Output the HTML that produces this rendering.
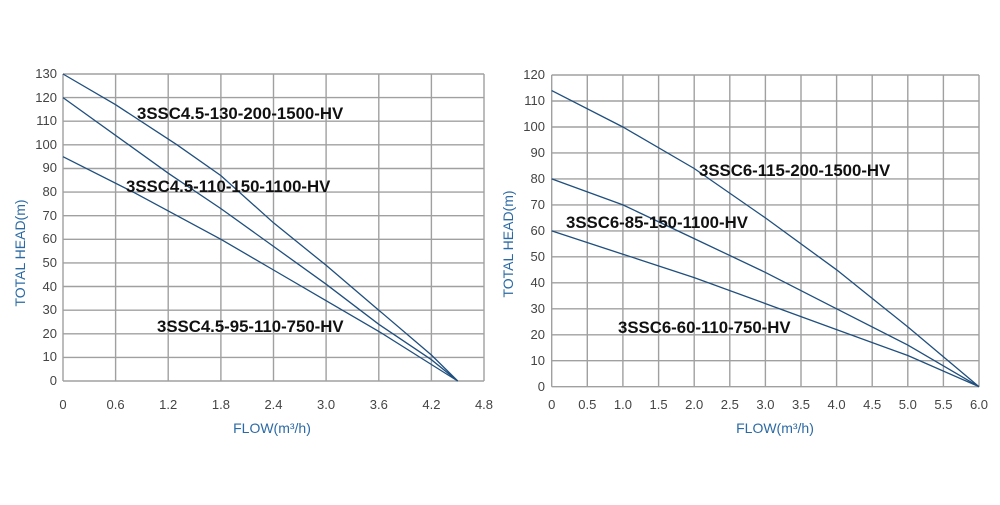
<!DOCTYPE html>
<html><head><meta charset="utf-8"><style>
body{margin:0;background:#fff}
svg text{font-family:"Liberation Sans",Arial,sans-serif}
.t{font-size:13px;fill:#444}
.s{font-size:16.8px;font-weight:bold;fill:#111}
.a{font-size:14px;fill:#2b6aa5}
.g{stroke:#a0a0a0;stroke-width:1.4;fill:none}
.c{stroke:#1f4f7e;stroke-width:1.3;fill:none}
</style></head><body>
<svg width="1000" height="500" xmlns="http://www.w3.org/2000/svg">
<g id="L">
<g class="g">
<path d="M63 74V381M115.6 74V381M168.2 74V381M220.9 74V381M273.5 74V381M326.1 74V381M378.8 74V381M431.4 74V381M484 74V381"/>
<path d="M63 74H484M63 97.6H484M63 121.2H484M63 144.8H484M63 168.5H484M63 192.1H484M63 215.7H484M63 239.3H484M63 262.9H484M63 286.5H484M63 310.2H484M63 333.8H484M63 357.4H484M63 381H484"/>
</g>
<g class="t" text-anchor="end">
<text x="57" y="78">130</text><text x="57" y="102">120</text><text x="57" y="125">110</text><text x="57" y="149">100</text><text x="57" y="172">90</text><text x="57" y="196">80</text><text x="57" y="220">70</text><text x="57" y="243">60</text><text x="57" y="267">50</text><text x="57" y="291">40</text><text x="57" y="314">30</text><text x="57" y="338">20</text><text x="57" y="361">10</text><text x="57" y="385">0</text>
</g>
<g class="t" text-anchor="middle">
<text x="63" y="409">0</text><text x="115.6" y="409">0.6</text><text x="168.2" y="409">1.2</text><text x="220.9" y="409">1.8</text><text x="273.5" y="409">2.4</text><text x="326.1" y="409">3.0</text><text x="378.8" y="409">3.6</text><text x="431.4" y="409">4.2</text><text x="484" y="409">4.8</text>
</g>
<polyline class="c" points="63,74 115.6,104.7 177,144.8 220.9,175.6 273.5,222.8 326.1,265.3 378.8,310.2 431.4,355 457.7,381"/>
<polyline class="c" points="63,97.6 168.2,173.2 220.9,208.6 273.5,246.4 326.1,284.2 378.8,324.3 431.4,359.7 457.7,381"/>
<polyline class="c" points="63,156.7 133.2,192.1 220.9,239.3 273.5,270 326.1,300.7 378.8,331.4 431.4,364.5 457.7,381"/>
<text class="s" x="137" y="119">3SSC4.5-130-200-1500-HV</text>
<text class="s" x="126" y="192">3SSC4.5-110-150-1100-HV</text>
<text class="s" x="157" y="332">3SSC4.5-95-110-750-HV</text>
<text class="a" x="272" y="433" text-anchor="middle">FLOW(m³/h)</text>
<text class="a" transform="translate(25,253) rotate(-90)" text-anchor="middle">TOTAL HEAD(m)</text>
</g>
<g id="R">
<g class="g">
<path d="M551.7 75V386.7M587.3 75V386.7M622.9 75V386.7M658.6 75V386.7M694.2 75V386.7M729.8 75V386.7M765.4 75V386.7M801 75V386.7M836.6 75V386.7M872.2 75V386.7M907.8 75V386.7M943.4 75V386.7M979 75V386.7"/>
<path d="M551.7 75H979M551.7 101H979M551.7 127H979M551.7 152.9H979M551.7 178.9H979M551.7 204.9H979M551.7 230.9H979M551.7 256.8H979M551.7 282.8H979M551.7 308.8H979M551.7 334.8H979M551.7 360.7H979M551.7 386.7H979"/>
</g>
<g class="t" text-anchor="end">
<text x="545" y="79">120</text><text x="545" y="105">110</text><text x="545" y="131">100</text><text x="545" y="157">90</text><text x="545" y="183">80</text><text x="545" y="209">70</text><text x="545" y="235">60</text><text x="545" y="261">50</text><text x="545" y="287">40</text><text x="545" y="313">30</text><text x="545" y="339">20</text><text x="545" y="365">10</text><text x="545" y="391">0</text>
</g>
<g class="t" text-anchor="middle">
<text x="551.7" y="409">0</text><text x="587.3" y="409">0.5</text><text x="622.9" y="409">1.0</text><text x="658.6" y="409">1.5</text><text x="694.2" y="409">2.0</text><text x="729.8" y="409">2.5</text><text x="765.4" y="409">3.0</text><text x="801" y="409">3.5</text><text x="836.6" y="409">4.0</text><text x="872.2" y="409">4.5</text><text x="907.8" y="409">5.0</text><text x="943.4" y="409">5.5</text><text x="979" y="409">6.0</text>
</g>
<polyline class="c" points="551.7,90.6 622.9,127 694.2,168.5 765.4,217.9 836.6,269.8 872.2,298.4 907.8,326.9 979,386.7"/>
<polyline class="c" points="551.7,178.9 622.9,204.9 694.2,238.6 765.4,272.4 836.6,308.8 907.8,345.1 979,386.7"/>
<polyline class="c" points="551.7,230.9 622.9,254.2 694.2,277.6 765.4,303.6 836.6,329.6 907.8,355.5 979,386.7"/>
<text class="s" x="699" y="176">3SSC6-115-200-1500-HV</text>
<text class="s" x="566" y="228">3SSC6-85-150-1100-HV</text>
<text class="s" x="618" y="333">3SSC6-60-110-750-HV</text>
<text class="a" x="775" y="433" text-anchor="middle">FLOW(m³/h)</text>
<text class="a" transform="translate(513,244) rotate(-90)" text-anchor="middle">TOTAL HEAD(m)</text>
</g>
</svg>
</body></html>
